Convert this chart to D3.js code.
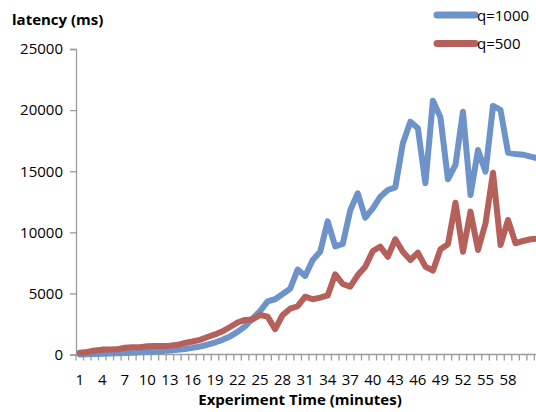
<!DOCTYPE html>
<html>
<head>
<meta charset="utf-8">
<script src="https://cdn.jsdelivr.net/npm/d3@7"></script>
<style>
  html, body { margin: 0; padding: 0; background: #fff; overflow: hidden; }
  svg { display: block; font-family: "Open Sans", "Noto Sans", sans-serif; }
</style>
</head>
<body>
<svg id="chart" width="536" height="412"></svg>
<script>
// Experiment minutes 1..62 (the last one runs off the right edge)
const minutes = d3.range(1, 63);

// Latency in ms for each query rate
const q1000 = [
  0, 20, 40, 60, 80, 100, 120, 150, 180, 210,
  250, 290, 330, 380, 450, 540, 650, 800, 980, 1200,
  1480, 1850, 2300, 2950, 3550, 4350, 4520, 4950, 5380, 6950,
  6430, 7730, 8410, 10900, 8850, 9050, 11800, 13190, 11200, 11960,
  12910, 13460, 13680, 17280, 19050, 18510, 14010, 20770, 19410, 14340,
  15510, 19870, 13050, 16740, 14960, 20340, 20010, 16510, 16410, 16350,
  16190, 16050
];
const q500 = [
  150, 200, 330, 400, 400, 420, 550, 590, 590, 670,
  700, 700, 710, 790, 940, 1060, 1200, 1430, 1640, 1900,
  2250, 2620, 2830, 2860, 3230, 3100, 2080, 3230, 3750, 3950,
  4730, 4520, 4650, 4830, 6570, 5770, 5550, 6500, 7190, 8470,
  8820, 8000, 9430, 8410, 7730, 8330, 7190, 6860, 8610, 9020,
  12420, 8410, 11690, 8550, 10740, 14880, 8960, 11010, 9100, 9290,
  9430, 9500
];

const seriesNames = ["q=1000", "q=500"];
const seriesColors = ["#6d93c8", "#b5605a"];
const yTicks = [0, 5000, 10000, 15000, 20000, 25000];
const xTickLabels = [1, 4, 7, 10, 13, 16, 19, 22, 25, 28, 31, 34, 37, 40, 43, 46, 49, 52, 55, 58];

const svg = d3.select("#chart");
const plotLeft = 76, plotBottom = 354.5, plotTop = 49;
const band = 7.514;

const x = d3.scaleBand().domain(minutes).range([plotLeft, plotLeft + minutes.length * band]);
const y = d3.scaleLinear().domain([0, 25000]).range([plotBottom, plotTop]);
const cx = d => x(d) + x.bandwidth() / 2;

const axisColor = "#9c9c9c";

// Y axis
const yAxis = svg.append("g")
  .attr("transform", `translate(${plotLeft},0)`)
  .call(d3.axisLeft(y).tickValues(yTicks).tickSize(6).tickPadding(7).tickFormat(d3.format("d")));
yAxis.select(".domain").attr("stroke", axisColor).attr("stroke-width", 1.3);
yAxis.selectAll(".tick line").attr("stroke", axisColor).attr("stroke-width", 1.3);
yAxis.selectAll(".tick text").attr("font-size", 15).attr("fill", "#000")
  .attr("font-family", "'Open Sans', sans-serif");

// X axis line with a tick at every band boundary
const xAxisG = svg.append("g");
xAxisG.append("line")
  .attr("x1", plotLeft).attr("x2", x.range()[1])
  .attr("y1", plotBottom).attr("y2", plotBottom)
  .attr("stroke", axisColor).attr("stroke-width", 1.3);
const boundaries = minutes.map(d => x(d)).concat([x.range()[1]]);
xAxisG.selectAll("line.tk").data(boundaries).join("line")
  .attr("class", "tk")
  .attr("x1", d => d).attr("x2", d => d)
  .attr("y1", plotBottom).attr("y2", plotBottom + 6)
  .attr("stroke", axisColor).attr("stroke-width", 1.3);
xAxisG.selectAll("text").data(xTickLabels).join("text")
  .attr("x", d => cx(d))
  .attr("y", 385)
  .attr("text-anchor", "middle")
  .attr("font-size", 15)
  .text(d => d);

// Lines
const line = d3.line().x((d, i) => cx(minutes[i])).y(d => y(d));
[q1000, q500].forEach((vals, k) => {
  svg.append("path")
    .datum(vals)
    .attr("d", line)
    .attr("fill", "none")
    .attr("stroke", seriesColors[k])
    .attr("stroke-width", 6)
    .attr("stroke-linejoin", "round")
    .attr("stroke-linecap", "round");
});

// Axis titles
svg.append("text")
  .attr("x", 12).attr("y", 25)
  .attr("font-size", 15).attr("font-weight", "bold")
  .text("latency (ms)");
svg.append("text")
  .attr("x", 300).attr("y", 405)
  .attr("text-anchor", "middle")
  .attr("font-size", 15).attr("font-weight", "bold")
  .text("Experiment Time (minutes)");

// Legend
const legend = svg.append("g");
seriesNames.forEach((name, k) => {
  const ly = 15 + k * 28.5;
  legend.append("line")
    .attr("x1", 437).attr("x2", 475)
    .attr("y1", ly).attr("y2", ly)
    .attr("stroke", seriesColors[k])
    .attr("stroke-width", 7)
    .attr("stroke-linecap", "round");
  legend.append("text")
    .attr("x", 477).attr("y", ly + 5.5)
    .attr("font-size", 15)
    .text(name);
});
</script>
</body>
</html>
